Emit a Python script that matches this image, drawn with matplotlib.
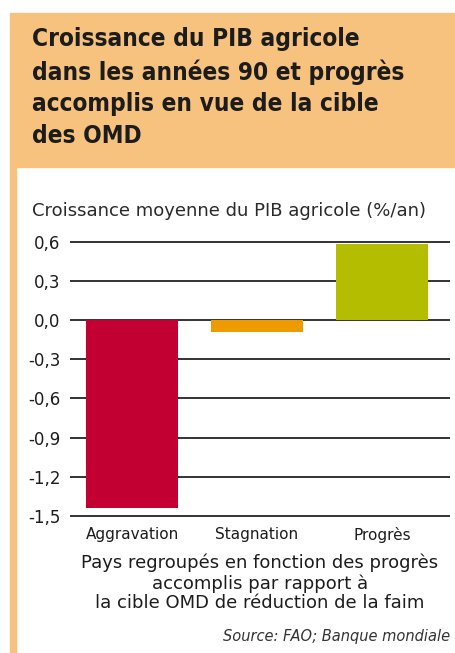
import matplotlib.pyplot as plt
from matplotlib.patches import Rectangle

categories = ["Aggravation", "Stagnation", "Progrès"]
values = [-1.44, -0.09, 0.58]
bar_colors = ["#C20032", "#EE9B00", "#B5BD00"]
y_ticks = [0.6, 0.3, 0.0, -0.3, -0.6, -0.9, -1.2, -1.5]
y_tick_labels = ["0,6", "0,3", "0,0", "-0,3", "-0,6", "-0,9", "-1,2", "-1,5"]

title = "Croissance du PIB agricole\ndans les années 90 et progrès\naccomplis en vue de la cible\ndes OMD"
subtitle = "Croissance moyenne du PIB agricole (%/an)"
xlabel = ("Pays regroupés en fonction des progrès\naccomplis par rapport à\n"
          "la cible OMD de réduction de la faim")
source = "Source: FAO; Banque mondiale"

W, H = 456, 653
header_color = "#F6C27E"
text_color = "#1c1c1c"

fig = plt.figure(figsize=(W / 100, H / 100), dpi=100)
fig.patch.set_facecolor("white")

# orange header band + left border
fig.patches.append(Rectangle((10 / W, 1 - 167 / H), 1 - 10 / W, 154 / H,
                             transform=fig.transFigure, color=header_color, zorder=0))
fig.patches.append(Rectangle((10 / W, 0), 6 / W, 1 - 167 / H,
                             transform=fig.transFigure, color=header_color, zorder=0))

fig.text(32 / W, 1 - 27 / H, title, ha="left", va="top", fontsize=17.5,
         fontweight="bold", fontstretch="condensed", color=text_color, linespacing=1.4)
fig.text(32 / W, 1 - 211 / H, subtitle, ha="left", va="center", fontsize=13,
         color="#2a2a2a")

ax = fig.add_axes([70 / W, 1 - 518.6 / H, 380 / W, 279.5 / H])
x = range(len(categories))
ax.bar(x, values, width=0.73, color=bar_colors, zorder=3)
ax.set_xlim(-0.496, 2.544)
ax.set_ylim(-1.52, 0.62)
ax.set_yticks(y_ticks)
ax.set_yticklabels(y_tick_labels)
ax.set_xticks(list(x))
ax.set_xticklabels(categories)
ax.tick_params(axis="y", length=0, pad=7, labelsize=12, labelcolor=text_color)
ax.tick_params(axis="x", length=0, pad=6, labelsize=11, labelcolor=text_color)
for s in ax.spines.values():
    s.set_visible(False)
ax.grid(axis="y", color="#333333", linewidth=1.4, zorder=1)
ax.set_axisbelow(True)

fig.text(260 / W, 1 - 554 / H, xlabel, ha="center", va="top", fontsize=13,
         color=text_color, linespacing=1.12, multialignment="center")
fig.text(450 / W, 1 - 636 / H, source, ha="right", va="center", fontsize=10.5,
         style="italic", color="#333333")

fig.savefig("out.png", dpi=100)
